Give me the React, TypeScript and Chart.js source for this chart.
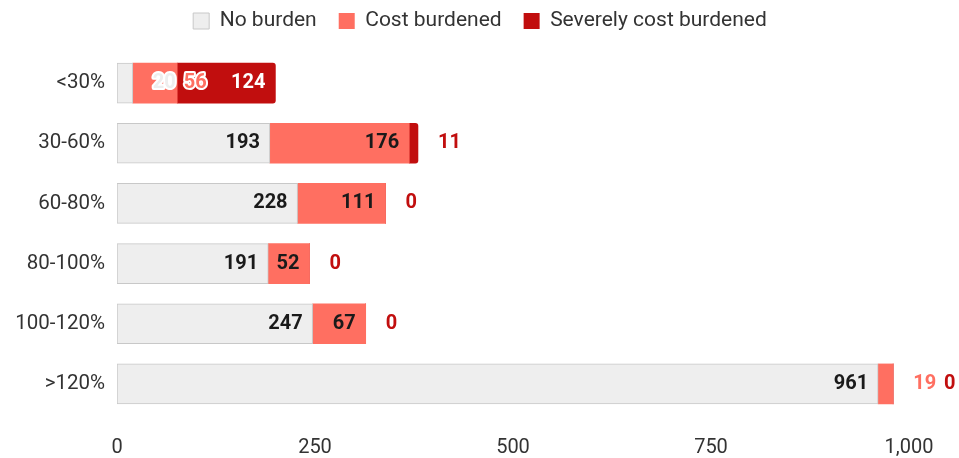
import React, { useEffect, useRef } from "react";
import { Chart, registerables } from "chart.js";

Chart.register(...registerables);

// ---- data ----
const categories = ["<30%", "30-60%", "60-80%", "80-100%", "100-120%", ">120%"];
const seriesNames = ["No burden", "Cost burdened", "Severely cost burdened"];
const noBurden = [20, 193, 228, 191, 247, 961];
const costBurdened = [56, 176, 111, 52, 67, 19];
const severelyBurdened = [124, 11, 0, 0, 0, 0];
const xTicks = [0, 250, 500, 750, 1000];

// ---- styles ----
const fillColors = ["#eeeeee", "#ff6f61", "#c10e0e"];
const insideTextColors = ["#1a1a1a", "#1a1a1a", "#ffffff"];
const outsideTextColors = ["#eeeeee", "#ff6f61", "#c10e0e"];
const FONT = "Roboto";
const LEGEND_SHIFT_Y = 11.5;
const LEGEND_SHIFT_X = 25.5;
const PLOT_TOP = 53;

const segmentLabels = {
  id: "segmentLabels",
  afterDatasetsDraw(chart: any) {
    const ctx = chart.ctx;
    ctx.save();
    ctx.font = `bold 20px ${FONT}`;
    ctx.textBaseline = "middle";
    ctx.textAlign = "left";
    const n = chart.data.labels.length;
    for (let i = 0; i < n; i++) {
      let prevRight = -Infinity;
      chart.data.datasets.forEach((ds: any, di: number) => {
        const meta = chart.getDatasetMeta(di);
        const el = meta.data[i];
        if (!el) return;
        const v = ds.data[i];
        const start = Math.min(el.base, el.x);
        const end = Math.max(el.base, el.x);
        const y = el.y;
        const text = String(v);
        const w = ctx.measureText(text).width;
        const pad = 10;
        const insideLeft = end - pad - w;
        const fitsSize = end - start >= w + 2 * pad - 4;
        const collides = insideLeft < prevRight + 4;
        if (fitsSize && !collides) {
          ctx.fillStyle = insideTextColors[di];
          ctx.fillText(text, insideLeft, y);
          prevRight = end - pad;
        } else {
          const x = fitsSize ? prevRight + 8 : Math.max(end + 20, prevRight + 8);
          ctx.lineWidth = 4;
          ctx.lineJoin = "round";
          ctx.strokeStyle = "#ffffff";
          ctx.strokeText(text, x, y);
          ctx.fillStyle = outsideTextColors[di];
          ctx.fillText(text, x, y);
          prevRight = x + w;
        }
      });
    }
    ctx.restore();
  },
};

const legendFix = {
  id: "legendFix",
  beforeUpdate(chart: any) {
    const lg = chart.legend;
    if (lg && !lg.__patched) {
      const f = lg.fit.bind(lg);
      lg.fit = function () {
        f();
        this.height = PLOT_TOP;
      };
      lg.__patched = true;
    }
  },
  afterLayout(chart: any) {
    const lg = chart.legend;
    if (lg) {
      lg.top -= LEGEND_SHIFT_Y;
      lg.bottom -= LEGEND_SHIFT_Y;
      lg.left += LEGEND_SHIFT_X;
      lg.right += LEGEND_SHIFT_X;
    }
  },
};

export default function App() {
  const ref = useRef<HTMLCanvasElement | null>(null);
  useEffect(() => {
    document.body.style.margin = "0";
    const canvas = ref.current;
    if (!canvas) return;
    const seriesValues = [noBurden, costBurdened, severelyBurdened];
    const chart = new Chart(canvas, {
      type: "bar",
      data: {
        labels: categories,
        datasets: seriesNames.map((name, i) => ({
          label: name,
          data: seriesValues[i],
          backgroundColor: fillColors[i],
          borderColor: i === 0 ? "#c8c8c8" : fillColors[i],
          borderWidth: i === 0 ? 1 : 0,
          borderSkipped: i === 0 ? false : "start",
          borderRadius: i === 2 ? 3 : 0,
          barThickness: 40,
        })),
      },
      options: {
        indexAxis: "y",
        responsive: false,
        animation: false,
        layout: { padding: { left: 0, right: 50, top: 0, bottom: 0 } },
        plugins: {
          tooltip: { enabled: false },
          legend: {
            position: "top",
            align: "center",
            labels: {
              boxWidth: 16,
              boxHeight: 16,
              padding: 22,
              color: "#333333",
              font: { family: FONT, size: 21 },
            },
          },
        },
        scales: {
          x: {
            stacked: true,
            min: 0,
            max: 1000,
            afterBuildTicks: (scale: any) => {
              scale.ticks = xTicks.map((v) => ({ value: v }));
            },
            afterFit: (scale: any) => {
              scale.height = 44;
            },
            grid: { display: false, drawTicks: false },
            border: { display: false },
            ticks: {
              padding: 22,
              color: "#333333",
              font: { family: FONT, size: 20 },
              maxRotation: 0,
              callback: (v: any) => Number(v).toLocaleString("en-US"),
            },
          },
          y: {
            stacked: true,
            afterFit: (scale: any) => {
              scale.width = 117;
            },
            grid: { display: false, drawTicks: false },
            border: { display: false },
            ticks: {
              padding: 12,
              color: "#333333",
              font: { family: FONT, size: 20.5 },
            },
          },
        },
      },
      plugins: [segmentLabels, legendFix],
    } as any);
    return () => chart.destroy();
  }, []);
  return (
    <div style={{ width: 959, height: 458 }}>
      <canvas ref={ref} width={959} height={458} style={{ display: "block" }} />
    </div>
  );
}
